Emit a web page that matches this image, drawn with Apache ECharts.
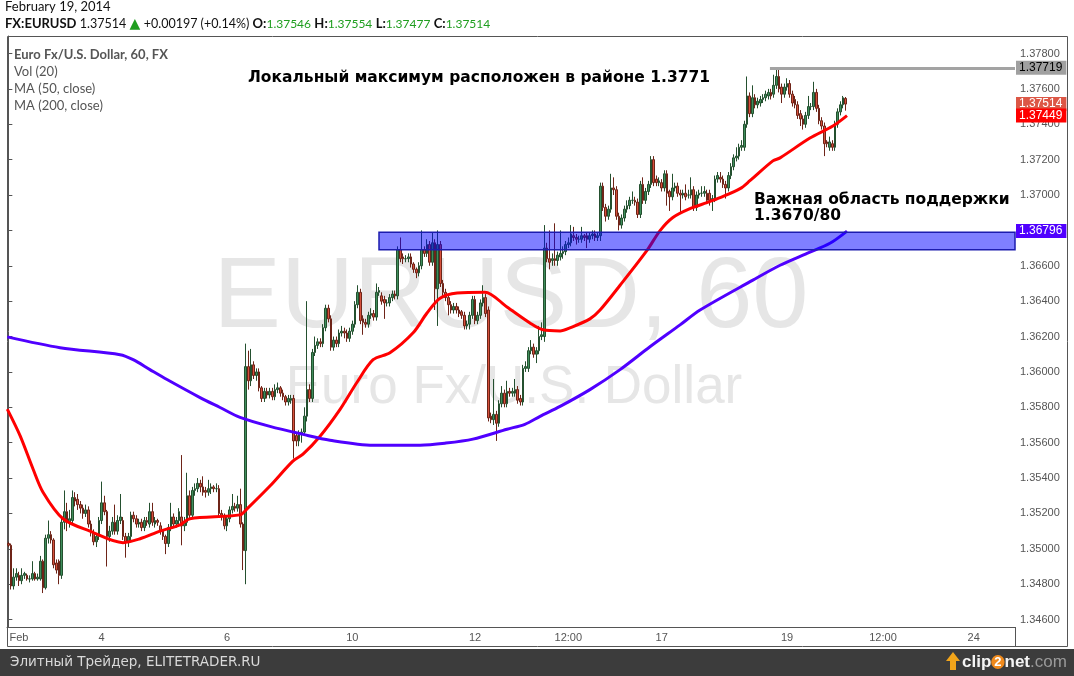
<!DOCTYPE html>
<html>
<head>
<meta charset="utf-8">
<title>EURUSD, 60</title>
<script src="https://cdn.jsdelivr.net/npm/echarts@6.0.0/dist/echarts.min.js"></script>
<style>
  html, body { margin: 0; padding: 0; background: #fff; }
  #chart { width: 1074px; height: 676px; }
</style>
</head>
<body>
<div id="chart"></div>
<script>
// hourly bars [open, close, low, high], split by stretch
const barsFeb3to5 = [
  [1.3503,1.3502,1.3501,1.3504],[1.3502,1.3479,1.3477,1.3503],[1.3479,1.3484,1.3477,1.3489],[1.3484,1.3486,1.3482,1.3489],
  [1.3485,1.3482,1.3479,1.3487],[1.3482,1.3485,1.3480,1.3489],[1.3485,1.3486,1.3483,1.3487],[1.3485,1.3483,1.3482,1.3486],
  [1.3483,1.3483,1.3481,1.3485],[1.3483,1.3486,1.3482,1.3493],[1.3486,1.3483,1.3482,1.3487],[1.3483,1.3484,1.3482,1.3486],
  [1.3483,1.3493,1.3482,1.3496],[1.3493,1.3478,1.3475,1.3494],[1.3478,1.3506,1.3477,1.3508],[1.3506,1.3508,1.3503,1.3516],
  [1.3508,1.3505,1.3503,1.3510],[1.3505,1.3491,1.3489,1.3506],[1.3492,1.3488,1.3486,1.3494],[1.3493,1.3485,1.3480,1.3494],
  [1.3485,1.3515,1.3483,1.3517],[1.3515,1.3521,1.3511,1.3533],[1.3521,1.3515,1.3510,1.3526],[1.3515,1.3517,1.3512,1.3522],
  [1.3516,1.3529,1.3514,1.3533],[1.3529,1.3527,1.3524,1.3532],[1.3528,1.3525,1.3522,1.3531],[1.3525,1.3523,1.3520,1.3527],
  [1.3523,1.3520,1.3517,1.3525],[1.3520,1.3522,1.3518,1.3525],[1.3522,1.3514,1.3512,1.3524],[1.3514,1.3509,1.3507,1.3516],
  [1.3509,1.3504,1.3502,1.3511],[1.3504,1.3507,1.3501,1.3509],[1.3507,1.3516,1.3505,1.3518],[1.3516,1.3526,1.3514,1.3538],
  [1.3526,1.3521,1.3519,1.3530],[1.3521,1.3507,1.3490,1.3522],[1.3507,1.3510,1.3504,1.3513],[1.3510,1.3515,1.3508,1.3518],
  [1.3515,1.3510,1.3508,1.3525],[1.3510,1.3516,1.3508,1.3519],[1.3516,1.3518,1.3514,1.3531],[1.3516,1.3507,1.3505,1.3518],
  [1.3507,1.3504,1.3495,1.3509],[1.3504,1.3507,1.3501,1.3509],[1.3507,1.3519,1.3505,1.3521],[1.3519,1.3517,1.3515,1.3521],
  [1.3517,1.3514,1.3512,1.3519],[1.3514,1.3515,1.3512,1.3517],[1.3515,1.3512,1.3510,1.3517],[1.3512,1.3516,1.3510,1.3518],
  [1.3516,1.3515,1.3513,1.3518],[1.3514,1.3521,1.3512,1.3526],[1.3521,1.3515,1.3513,1.3526],[1.3514,1.3516,1.3512,1.3518],
  [1.3516,1.3515,1.3513,1.3517],[1.3513,1.3510,1.3508,1.3515],[1.3510,1.3507,1.3505,1.3511],[1.3507,1.3503,1.3497,1.3508],
  [1.3503,1.3512,1.3501,1.3514],[1.3512,1.3518,1.3510,1.3526],[1.3518,1.3514,1.3512,1.3520],[1.3514,1.3516,1.3512,1.3518],
  [1.3516,1.3521,1.3514,1.3523]
];
const barsFeb5to7 = [
  [1.3518,1.3513,1.3502,1.3553],[1.3513,1.3515,1.3510,1.3518],[1.3515,1.3530,1.3513,1.3543],[1.3530,1.3519,1.3517,1.3533],
  [1.3519,1.3533,1.3517,1.3535],[1.3533,1.3534,1.3530,1.3537],[1.3534,1.3537,1.3532,1.3540],[1.3537,1.3535,1.3532,1.3539],
  [1.3535,1.3532,1.3530,1.3541],[1.3533,1.3532,1.3529,1.3535],[1.3532,1.3534,1.3530,1.3539],[1.3534,1.3535,1.3531,1.3537],
  [1.3535,1.3534,1.3532,1.3536],[1.3534,1.3534,1.3532,1.3537],[1.3534,1.3520,1.3518,1.3536],[1.3520,1.3519,1.3516,1.3522],
  [1.3519,1.3513,1.3511,1.3520],[1.3513,1.3517,1.3510,1.3519],[1.3517,1.3522,1.3515,1.3524],[1.3522,1.3524,1.3520,1.3531],
  [1.3524,1.3523,1.3521,1.3526],[1.3523,1.3525,1.3521,1.3530],[1.3525,1.3514,1.3512,1.3534],[1.3514,1.3499,1.3488,1.3515],
  [1.3499,1.3603,1.3480,1.3616],[1.3603,1.3595,1.3590,1.3612],[1.3595,1.3604,1.3592,1.3613],[1.3604,1.3598,1.3596,1.3606],
  [1.3598,1.3600,1.3595,1.3602],[1.3600,1.3591,1.3589,1.3602],[1.3591,1.3585,1.3583,1.3592],[1.3585,1.3589,1.3583,1.3591],
  [1.3589,1.3587,1.3585,1.3591],[1.3587,1.3589,1.3585,1.3591],[1.3589,1.3586,1.3584,1.3591],[1.3586,1.3590,1.3584,1.3593],
  [1.3590,1.3591,1.3588,1.3594],[1.3591,1.3588,1.3586,1.3592],[1.3588,1.3586,1.3584,1.3590],[1.3586,1.3583,1.3581,1.3587],
  [1.3583,1.3585,1.3581,1.3587],[1.3584,1.3585,1.3582,1.3587],[1.3585,1.3561,1.3551,1.3587],[1.3564,1.3561,1.3558,1.3566],
  [1.3561,1.3565,1.3558,1.3567],[1.3565,1.3566,1.3560,1.3568],[1.3566,1.3575,1.3564,1.3580],[1.3575,1.3590,1.3572,1.3640],
  [1.3590,1.3585,1.3583,1.3593],[1.3585,1.3611,1.3583,1.3613],[1.3611,1.3615,1.3609,1.3620],[1.3615,1.3617,1.3613,1.3619],
  [1.3617,1.3616,1.3614,1.3619],[1.3616,1.3625,1.3614,1.3627],[1.3625,1.3636,1.3623,1.3638],[1.3636,1.3630,1.3628,1.3638]
];
const barsFeb10to12 = [
  [1.3630,1.3614,1.3612,1.3632],[1.3614,1.3618,1.3612,1.3620],[1.3618,1.3616,1.3614,1.3620],[1.3616,1.3622,1.3614,1.3624],
  [1.3622,1.3623,1.3620,1.3626],[1.3623,1.3622,1.3619,1.3625],[1.3622,1.3619,1.3617,1.3624],[1.3619,1.3623,1.3617,1.3625],
  [1.3623,1.3627,1.3621,1.3629],[1.3627,1.3638,1.3625,1.3640],[1.3638,1.3645,1.3636,1.3649],[1.3645,1.3629,1.3627,1.3647],
  [1.3630,1.3628,1.3621,1.3632],[1.3628,1.3627,1.3625,1.3630],[1.3627,1.3632,1.3625,1.3634],[1.3632,1.3633,1.3630,1.3636],
  [1.3633,1.3631,1.3629,1.3635],[1.3631,1.3645,1.3629,1.3650],[1.3645,1.3646,1.3643,1.3648],[1.3643,1.3640,1.3638,1.3645],
  [1.3641,1.3639,1.3630,1.3643],[1.3639,1.3639,1.3637,1.3641],[1.3639,1.3642,1.3637,1.3644],[1.3642,1.3644,1.3640,1.3646],
  [1.3644,1.3643,1.3641,1.3646],[1.3643,1.3669,1.3641,1.3671],[1.3669,1.3664,1.3662,1.3676],[1.3665,1.3664,1.3661,1.3667],
  [1.3664,1.3664,1.3662,1.3666],[1.3664,1.3665,1.3662,1.3667],[1.3665,1.3661,1.3659,1.3667],[1.3661,1.3658,1.3656,1.3662],
  [1.3658,1.3656,1.3653,1.3659],[1.3656,1.3660,1.3654,1.3662],[1.3660,1.3669,1.3658,1.3680],[1.3669,1.3667,1.3665,1.3671],
  [1.3667,1.3672,1.3665,1.3675],[1.3672,1.3662,1.3660,1.3674],[1.3662,1.3673,1.3660,1.3679],[1.3673,1.3647,1.3635,1.3675],
  [1.3647,1.3672,1.3626,1.3680],[1.3672,1.3650,1.3648,1.3674],[1.3650,1.3645,1.3643,1.3652],[1.3645,1.3642,1.3640,1.3647],
  [1.3642,1.3638,1.3632,1.3644],[1.3638,1.3635,1.3633,1.3640],[1.3635,1.3637,1.3633,1.3639],[1.3637,1.3635,1.3633,1.3639],
  [1.3635,1.3633,1.3631,1.3637],[1.3634,1.3632,1.3630,1.3635],[1.3632,1.3626,1.3624,1.3634],[1.3626,1.3627,1.3624,1.3629],
  [1.3627,1.3632,1.3624,1.3634],[1.3632,1.3641,1.3630,1.3643],[1.3641,1.3629,1.3627,1.3643],[1.3629,1.3632,1.3627,1.3634],
  [1.3632,1.3639,1.3630,1.3641],[1.3639,1.3642,1.3637,1.3649],[1.3642,1.3633,1.3631,1.3644],[1.3635,1.3574,1.3572,1.3637]
];
const barsFeb12to14 = [
  [1.3575,1.3573,1.3571,1.3577],[1.3573,1.3576,1.3570,1.3596],[1.3576,1.3571,1.3561,1.3578],[1.3571,1.3582,1.3569,1.3584],
  [1.3582,1.3588,1.3580,1.3592],[1.3588,1.3582,1.3580,1.3590],[1.3582,1.3589,1.3580,1.3595],[1.3589,1.3588,1.3586,1.3591],
  [1.3588,1.3589,1.3586,1.3591],[1.3588,1.3590,1.3586,1.3596],[1.3590,1.3584,1.3582,1.3592],[1.3585,1.3583,1.3581,1.3587],
  [1.3583,1.3602,1.3581,1.3604],[1.3602,1.3603,1.3600,1.3606],[1.3602,1.3612,1.3600,1.3614],[1.3612,1.3614,1.3610,1.3618],
  [1.3614,1.3610,1.3608,1.3616],[1.3610,1.3612,1.3605,1.3614],[1.3612,1.3620,1.3610,1.3626],[1.3620,1.3621,1.3618,1.3628],
  [1.3620,1.3670,1.3617,1.3683],[1.3670,1.3664,1.3662,1.3673],[1.3664,1.3662,1.3658,1.3680],[1.3663,1.3664,1.3660,1.3667],
  [1.3664,1.3663,1.3660,1.3684],[1.3663,1.3666,1.3660,1.3668],[1.3665,1.3667,1.3663,1.3680],[1.3667,1.3668,1.3664,1.3671],
  [1.3668,1.3672,1.3666,1.3674],[1.3672,1.3673,1.3670,1.3676],[1.3673,1.3678,1.3671,1.3683],[1.3677,1.3676,1.3674,1.3682],
  [1.3676,1.3675,1.3672,1.3678],[1.3675,1.3675,1.3673,1.3677],[1.3675,1.3677,1.3673,1.3682],[1.3677,1.3676,1.3674,1.3678],
  [1.3677,1.3675,1.3670,1.3679],[1.3675,1.3677,1.3673,1.3679],[1.3677,1.3678,1.3675,1.3680],[1.3678,1.3676,1.3674,1.3680],
  [1.3676,1.3677,1.3674,1.3679],[1.3677,1.3705,1.3674,1.3707],[1.3705,1.3693,1.3691,1.3707],[1.3693,1.3688,1.3685,1.3695],
  [1.3688,1.3692,1.3686,1.3694],[1.3692,1.3704,1.3690,1.3712],[1.3704,1.3703,1.3700,1.3710],[1.3703,1.3688,1.3686,1.3705],
  [1.3688,1.3683,1.3680,1.3690],[1.3683,1.3687,1.3681,1.3689],[1.3687,1.3692,1.3685,1.3694],[1.3692,1.3694,1.3690,1.3697],
  [1.3694,1.3697,1.3692,1.3699],[1.3697,1.3697,1.3695,1.3702],[1.3697,1.3696,1.3694,1.3699],[1.3696,1.3689,1.3687,1.3698],
  [1.3689,1.3706,1.3687,1.3708],[1.3706,1.3697,1.3695,1.3710],[1.3697,1.3702,1.3695,1.3704],[1.3702,1.3706,1.3700,1.3708],
  [1.3706,1.3720,1.3704,1.3722]
];
const barsFeb17to20 = [
  [1.3720,1.3707,1.3705,1.3722],[1.3709,1.3707,1.3705,1.3711],[1.3707,1.3708,1.3705,1.3710],[1.3707,1.3704,1.3702,1.3709],
  [1.3704,1.3712,1.3702,1.3714],[1.3712,1.3701,1.3694,1.3714],[1.3702,1.3699,1.3691,1.3703],[1.3699,1.3704,1.3697,1.3712],
  [1.3704,1.3705,1.3702,1.3707],[1.3705,1.3701,1.3699,1.3707],[1.3701,1.3700,1.3690,1.3703],[1.3700,1.3701,1.3698,1.3703],
  [1.3701,1.3699,1.3697,1.3706],[1.3700,1.3700,1.3698,1.3703],[1.3700,1.3703,1.3698,1.3710],[1.3703,1.3693,1.3691,1.3705],
  [1.3693,1.3700,1.3691,1.3702],[1.3700,1.3701,1.3698,1.3703],[1.3701,1.3701,1.3699,1.3705],[1.3701,1.3702,1.3699,1.3705],
  [1.3701,1.3697,1.3695,1.3703],[1.3701,1.3697,1.3694,1.3703],[1.3697,1.3698,1.3691,1.3700],[1.3698,1.3709,1.3696,1.3711],
  [1.3709,1.3711,1.3707,1.3713],[1.3710,1.3709,1.3707,1.3713],[1.3709,1.3706,1.3704,1.3711],[1.3706,1.3704,1.3698,1.3708],
  [1.3704,1.3711,1.3702,1.3713],[1.3711,1.3716,1.3709,1.3718],[1.3716,1.3721,1.3714,1.3723],[1.3721,1.3722,1.3719,1.3727],
  [1.3722,1.3727,1.3720,1.3729],[1.3727,1.3728,1.3725,1.3731],[1.3727,1.3740,1.3725,1.3742],[1.3740,1.3756,1.3738,1.3767],
  [1.3756,1.3746,1.3744,1.3758],[1.3746,1.3755,1.3744,1.3762],[1.3755,1.3751,1.3749,1.3757],[1.3751,1.3753,1.3749,1.3755],
  [1.3752,1.3754,1.3750,1.3756],[1.3754,1.3755,1.3752,1.3757],[1.3755,1.3757,1.3753,1.3759],[1.3756,1.3758,1.3754,1.3760],
  [1.3758,1.3756,1.3754,1.3760],[1.3757,1.3762,1.3755,1.3768],[1.3762,1.3767,1.3760,1.37719],[1.3767,1.3760,1.3758,1.3771],
  [1.3761,1.3757,1.3752,1.3763],[1.3757,1.3761,1.3755,1.3763],[1.3761,1.3763,1.3759,1.3766],[1.3763,1.3757,1.3755,1.3765],
  [1.3757,1.3752,1.3750,1.3759],[1.3754,1.3751,1.3749,1.3756],[1.3751,1.3745,1.3743,1.3753],[1.3746,1.3743,1.3739,1.3748],
  [1.3743,1.3740,1.3737,1.3745],[1.3740,1.3745,1.3738,1.3747],[1.3745,1.3750,1.3743,1.3756],[1.3750,1.3750,1.3748,1.3752],
  [1.3750,1.3758,1.3748,1.3764],[1.3758,1.3749,1.3747,1.3760],[1.3749,1.3742,1.3740,1.3751],[1.3742,1.3739,1.3737,1.3744],
  [1.3739,1.3729,1.3722,1.3741],[1.3730,1.3729,1.3727,1.3731],[1.3727,1.3730,1.3725,1.3733],[1.3729,1.3727,1.3725,1.3731],
  [1.3727,1.3740,1.3725,1.3742],[1.3740,1.3747,1.3738,1.3749],[1.3747,1.3751,1.3745,1.3753],[1.3751,1.3755,1.3749,1.3756],
  [1.37546,1.37514,1.37477,1.37554]
];

// moving averages as drawn, [bar position, price]
const ma50 = [
  [-0.4,1.3579],[4.4,1.3564],[9.3,1.3545],[13,1.3532],[20.5,1.3517],[30.6,1.3510],[43,1.35035],[49.4,1.35057],
  [56.9,1.3510],[64.4,1.35136],[68.1,1.3517],[86.9,1.35192],[89.5,1.35226],[98.1,1.35355],[106.7,1.35496],
  [110.5,1.35535],[116.9,1.35636],[124.4,1.35788],[130.7,1.3594],[136.8,1.36069],[143.1,1.36108],[151.8,1.36221],
  [157,1.36333],[161.9,1.36417],[168.3,1.36446],[178.7,1.36451],[187,1.36367],[195.6,1.36277],[200.5,1.36238],
  [206.9,1.36232],[210.6,1.36249],[218.1,1.3630],[221.9,1.3635],[229.4,1.3649],[239.5,1.36687],[244.4,1.36799],
  [249.2,1.36873],[255.6,1.36923],[262,1.36957],[266.9,1.36985],[274.4,1.37036],[278.1,1.37081],[286.7,1.37193],
  [289.4,1.3721],[300.6,1.37322],[309.2,1.3739],[314.5,1.37449]
];
const ma200 = [
  [-0.4,1.36198],[19.4,1.36137],[41.9,1.36097],[46.8,1.36069],[53.1,1.36013],[59.5,1.35957],[71.9,1.35855],
  [79.4,1.35799],[86.9,1.35743],[98.1,1.35692],[110.5,1.35647],[120.6,1.35614],[136.8,1.35586],[154.4,1.35586],
  [163.7,1.35597],[174.2,1.3562],[187,1.35676],[193.7,1.35704],[199.4,1.35749],[206.9,1.35805],[218.1,1.359],
  [229.4,1.36013],[240.6,1.36142],[251.9,1.36266],[259.4,1.3635],[279.2,1.36519],[289.4,1.36603],[299.5,1.3667],
  [308.1,1.36727],[314.5,1.36796]
];

// date ticks on the time axis (bar number -> text)
const tickBars = [4, 35, 82, 129, 175, 210, 245, 292, 328, 362];
const tickTexts = ['Feb', '4', '6', '10', '12', '12:00', '17', '19', '12:00', '24'];

// support zone, local high and last values shown as tags
const supportZone = [1.3669, 1.3679];
const supportFromBar = 139;
const localHigh = 1.37719;
const highFromBar = 285.6;
const lastClose = 1.37514;
const lastMa50 = 1.37449;
const lastMa200 = 1.36796;

const candles = [].concat(barsFeb3to5, barsFeb5to7, barsFeb10to12, barsFeb12to14, barsFeb17to20);
const SLOTS = 378; // bar slots across the plot, the right part stays empty
const slots = Array.from({ length: SLOTS }, (_, i) => String(i));
const tickAt = {};
tickBars.forEach((b, k) => { tickAt[b] = tickTexts[k]; });

const tagLabel = (text, bg, fg) => ({
  show: true, position: 'end', distance: 1, formatter: text,
  backgroundColor: bg, color: fg, padding: [1, 4, 1, 3],
  fontSize: 12, fontFamily: 'Liberation Sans'
});
// a tag is a tiny invisible segment at the right edge with its label outside the plot
const tag = (value, bg, fg) => [
  { coord: [SLOTS - 1.5, value], lineStyle: { color: 'rgba(0,0,0,0)', width: 1 }, label: tagLabel(value.toFixed(5), bg, fg) },
  { coord: [SLOTS - 0.5, value] }
];

let chart = echarts.init(document.getElementById('chart'));
chart.setOption({
  animation: false,
  grid: { left: 7, right: 59, top: 36, bottom: 49 },
  xAxis: [
    {
      type: 'category', data: slots, boundaryGap: true,
      axisLine: { lineStyle: { color: '#555', width: 1 } },
      axisTick: { alignWithLabel: true, length: 3, interval: (i) => i in tickAt, lineStyle: { color: '#555' } },
      axisLabel: {
        interval: (i) => i in tickAt, formatter: (v) => tickAt[v] || '',
        color: '#555', fontSize: 11, fontFamily: 'Liberation Sans', margin: 5
      },
      splitLine: { show: false }
    },
    { type: 'value', min: -0.5, max: SLOTS - 0.5, show: false }
  ],
  yAxis: {
    type: 'value', position: 'right', min: 1.345581, max: 1.378989, splitNumber: 16,
    axisLine: { show: true, lineStyle: { color: '#555' } },
    axisTick: { show: true, length: 4, lineStyle: { color: '#555' } },
    axisLabel: {
      formatter: (v) => v.toFixed(5), color: '#555', fontSize: 11, fontFamily: 'Liberation Sans',
      margin: 5, showMinLabel: false, showMaxLabel: false
    },
    splitLine: { show: false }
  },
  series: [
    {
      type: 'candlestick', data: candles, barWidth: 2, z: 2,
      itemStyle: {
        color: '#3f8e5c', color0: '#d6513c',
        borderColor: '#24502f', borderColor0: '#6e2418', borderWidth: 1
      }
    },
    {
      type: 'line', xAxisIndex: 1, data: ma50, smooth: 0.3, showSymbol: false, z: 3,
      lineStyle: { color: '#ff0000', width: 3 }
    },
    {
      type: 'line', xAxisIndex: 1, data: ma200, smooth: 0.3, showSymbol: false, z: 3,
      lineStyle: { color: '#5000ff', width: 3 }
    },
    {
      // support box, high ray and value tags
      type: 'line', xAxisIndex: 1, data: [],
      markArea: {
        z: 10, silent: true,
        itemStyle: { color: 'rgba(0,0,255,0.5)', borderColor: '#1c1cae', borderWidth: 1.5 },
        data: [[{ coord: [supportFromBar, supportZone[1]] }, { coord: [SLOTS - 0.5, supportZone[0]] }]]
      },
      markLine: {
        z: 12, silent: true, symbol: ['none', 'none'],
        label: { show: true },
        data: [
          [
            { coord: [highFromBar, localHigh], lineStyle: { color: '#a3a3a3', width: 3, type: 'solid' },
              label: tagLabel(localHigh.toFixed(5), '#a0a0a0', '#000') },
            { coord: [SLOTS - 0.5, localHigh] }
          ],
          tag(lastMa200, '#5000ff', '#fff'),
          tag(lastClose, '#dc5746', '#fff'),
          tag(lastMa50, '#ff0000', '#fff')
        ]
      }
    }
  ],
  graphic: [
    // watermark
    { type: 'text', x: 511, y: 299, z: 0, silent: true,
      style: { text: 'EURUSD, 60', font: '101px "Liberation Sans"', fill: '#e6e6e6', textAlign: 'center', textVerticalAlign: 'middle' } },
    { type: 'text', x: 514, y: 388, z: 0, silent: true,
      style: { text: 'Euro Fx/U.S. Dollar', font: '53px "Liberation Sans"', fill: '#e6e6e6', textAlign: 'center', textVerticalAlign: 'middle' } },
    // header
    { type: 'text', x: 5, y: 7, style: { text: 'February 19, 2014', font: '13px Lato', fill: '#111', textVerticalAlign: 'middle' } },
    { type: 'text', x: 5, y: 24,
      style: {
        text: '{b|FX:EURUSD} {n|1.37514} {t|▲} {n|+0.00197 (+0.14%)} {b|O:}{g|1.37546} {b|H:}{g|1.37554} {b|L:}{g|1.37477} {b|C:}{g|1.37514}',
        textVerticalAlign: 'middle',
        rich: {
          b: { fontFamily: 'Lato', fontSize: 13, fontWeight: 'bold', fill: '#111' },
          n: { fontFamily: 'Lato', fontSize: 12.5, fill: '#111' },
          g: { fontFamily: 'Lato', fontSize: 12, fill: '#1f9e1f' },
          t: { fontFamily: 'DejaVu Sans', fontSize: 14, fill: '#1f9e1f' }
        }
      } },
    // frame
    { type: 'rect', z: 1, silent: true, shape: { x: 7.5, y: 36.5, width: 1060, height: 610 },
      style: { fill: null, stroke: '#555', lineWidth: 1 } },
    { type: 'line', z: 1, silent: true, shape: { x1: 1015.5, y1: 627, x2: 1015.5, y2: 647 },
      style: { stroke: '#555', lineWidth: 1 } },
    // legend
    { type: 'text', x: 14, y: 55, style: { text: 'Euro Fx/U.S. Dollar, 60, FX', font: 'bold 13px Lato', fill: '#555', textVerticalAlign: 'middle' } },
    { type: 'text', x: 14, y: 72, style: { text: 'Vol (20)', font: '13px Lato', fill: '#555', textVerticalAlign: 'middle' } },
    { type: 'text', x: 14, y: 89, style: { text: 'MA (50, close)', font: '13px Lato', fill: '#555', textVerticalAlign: 'middle' } },
    { type: 'text', x: 14, y: 106, style: { text: 'MA (200, close)', font: '13px Lato', fill: '#555', textVerticalAlign: 'middle' } },
    // annotations
    { type: 'text', x: 248, y: 78, z: 20,
      style: { text: 'Локальный максимум расположен в районе 1.3771', font: 'bold 15.5px "DejaVu Sans"', fill: '#000', textVerticalAlign: 'middle' } },
    { type: 'text', x: 754, y: 200, z: 20,
      style: { text: 'Важная область поддержки', font: 'bold 15.5px "DejaVu Sans"', fill: '#000', textVerticalAlign: 'middle' } },
    { type: 'text', x: 754, y: 216, z: 20,
      style: { text: '1.3670/80', font: 'bold 15.5px "DejaVu Sans"', fill: '#000', textVerticalAlign: 'middle' } },
    // footer
    { type: 'rect', z: 1, silent: true, shape: { x: 0, y: 649, width: 1074, height: 27 }, style: { fill: '#3c3c3c' } },
    { type: 'text', x: 10, y: 662, z: 2,
      style: { text: 'Элитный Трейдер, ELITETRADER.RU', font: '13.5px "DejaVu Sans"', fill: '#d9d9d9', textVerticalAlign: 'middle' } },
    { type: 'polygon', z: 2, shape: { points: [[950, 670], [950, 661], [946, 661], [953, 652], [960, 661], [956, 661], [956, 670]] },
      style: { fill: '#f2a51a' } },
    { type: 'text', x: 962, y: 662, z: 2,
      style: {
        text: '{w|clip}{o|2}{w|net}{g|.com}', textVerticalAlign: 'middle',
        rich: {
          w: { fontFamily: 'Liberation Sans', fontSize: 17, fontWeight: 'bold', fill: '#f4f4f4' },
          o: { fontFamily: 'Liberation Sans', fontSize: 13, fontWeight: 'bold', fill: '#fff', backgroundColor: '#f08a1c', borderRadius: 8, padding: [1, 3, 0, 3] },
          g: { fontFamily: 'Liberation Sans', fontSize: 17, fill: '#9a9a9a' }
        }
      } }
  ]
});
</script>
</body>
</html>
